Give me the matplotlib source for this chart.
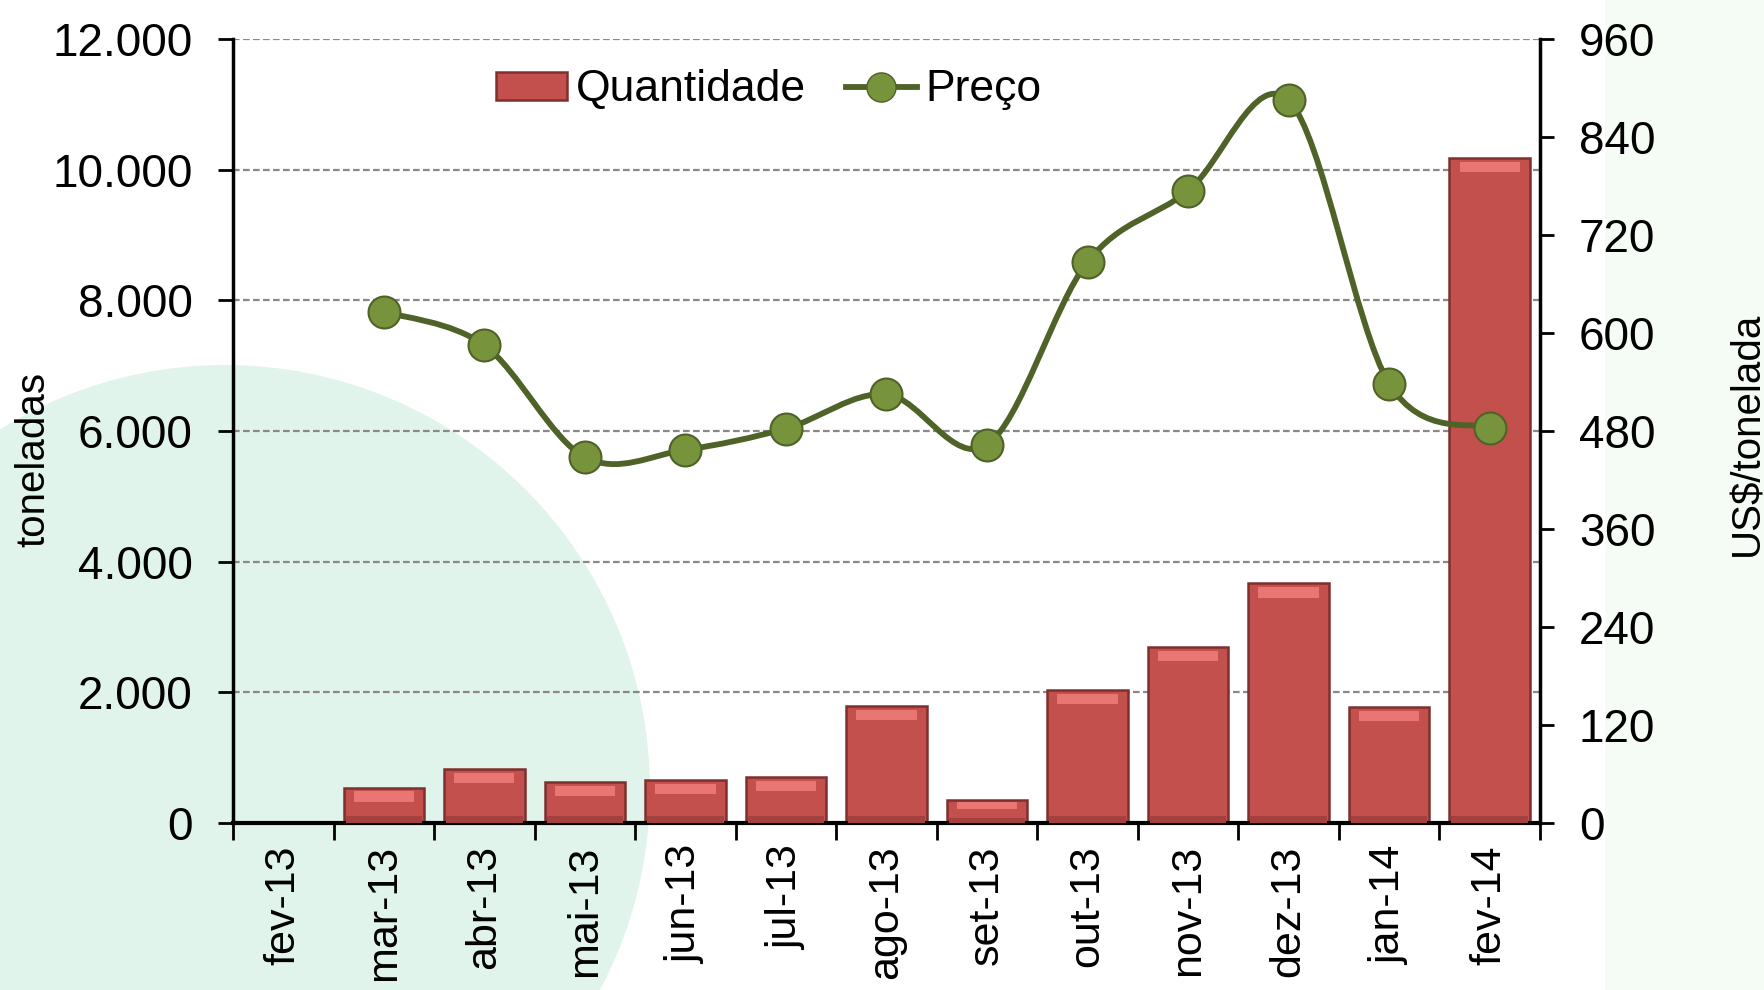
import numpy as np
import matplotlib.pyplot as plt
from matplotlib.path import Path
from matplotlib.patches import PathPatch, Circle, Rectangle, Patch
from matplotlib.lines import Line2D
from matplotlib.ticker import FuncFormatter

plt.rcParams['font.family'] = ['Liberation Sans', 'DejaVu Sans']

# Dados
meses = ['fev-13', 'mar-13', 'abr-13', 'mai-13', 'jun-13', 'jul-13', 'ago-13',
         'set-13', 'out-13', 'nov-13', 'dez-13', 'jan-14', 'fev-14']
quantidade = [0, 530, 830, 620, 655, 705, 1790, 345, 2040, 2700, 3670, 1780, 10180]
preco = [np.nan, 626, 585, 448, 457, 483, 525, 463, 687, 774, 885, 538, 484]

cor_barra = '#c4504d'
cor_borda = '#7e302e'
cor_linha = '#4f6228'
cor_marcador = '#77933c'

fig = plt.figure(figsize=(17.65, 9.9), dpi=100)

# fundo (marca d'água) num eixo por trás de tudo, em pixels
bg = fig.add_axes([0, 0, 1, 1], zorder=-10)
bg.set_xlim(0, 1765)
bg.set_ylim(990, 0)
bg.axis('off')
bg.add_patch(Circle((225, 790), 425, facecolor='#e0f4ec', edgecolor='none'))
bg.add_patch(Rectangle((1605, 0), 160, 990, facecolor='#f5fcf5', edgecolor='none'))

ax = fig.add_axes([0.132, 0.1687, 0.7405, 0.7919])
ax.set_facecolor('none')
x = np.arange(len(meses))
q = np.array(quantidade, dtype=float)

# barras com um leve bisel
ax.bar(x, q, width=0.8, color=cor_barra, edgecolor=cor_borda, linewidth=1.8, zorder=2)
base = np.minimum(110, 0.22 * q)
ax.bar(x, base, width=0.76, color='#a4403e', edgecolor='none', zorder=3)
realce = np.minimum(160, 0.3 * q)
margem = np.minimum(60, 0.08 * q)
ax.bar(x, realce, bottom=q - realce - margem, width=0.6, color='#e97672',
       edgecolor='none', zorder=3)

ax.set_xlim(-0.5, len(meses) - 0.5)
ax.set_ylim(0, 12000)
ax.set_yticks(np.arange(0, 12001, 2000))
ax.yaxis.set_major_formatter(FuncFormatter(lambda v, p: f'{int(v):,}'.replace(',', '.')))
ax.grid(axis='y', color='#8c8888', linestyle=(0, (3, 1.5)), linewidth=1.6, zorder=0)
ax.set_axisbelow(True)

ax.set_xticks(np.arange(-0.5, len(meses)), [''] * (len(meses) + 1))
ax.set_xticks(x, meses, minor=True, rotation=90)
ax.tick_params(axis='x', which='major', length=12, width=2)
ax.tick_params(axis='x', which='minor', length=0, pad=16, labelsize=31)
ax.tick_params(axis='y', length=11, width=2, pad=18, labelsize=33)
for lado in ['top', 'right']:
    ax.spines[lado].set_visible(False)
ax.spines['left'].set_linewidth(2.5)
ax.spines['bottom'].set_linewidth(3)
ax.set_ylabel('toneladas', fontsize=29)
ax.yaxis.set_label_coords(-0.138, 0.464)

# eixo secundário: preço com linha suavizada
ax2 = ax.twinx()
ax2.set_ylim(0, 960)
ax2.set_yticks(np.arange(0, 961, 120))
ax2.tick_params(axis='y', length=10, width=2, pad=18, labelsize=33)
for lado in ['top', 'left', 'bottom']:
    ax2.spines[lado].set_visible(False)
ax2.spines['right'].set_linewidth(2.5)
ax2.set_ylabel('US\\$/tonelada', fontsize=29)
ax2.yaxis.set_label_coords(1.144, 0.497)

p = np.array(preco, dtype=float)
ok = ~np.isnan(p)
pts = np.column_stack([x[ok], p[ok]])
verts = [pts[0]]
codes = [Path.MOVETO]
for i in range(len(pts) - 1):
    p0 = pts[max(i - 1, 0)]
    p1 = pts[i]
    p2 = pts[i + 1]
    p3 = pts[min(i + 2, len(pts) - 1)]
    verts += [p1 + (p2 - p0) / 6, p2 - (p3 - p1) / 6, p2]
    codes += [Path.CURVE4] * 3
ax2.add_patch(PathPatch(Path(verts, codes), facecolor='none', edgecolor=cor_linha,
                        linewidth=4.2, zorder=4))
ax2.plot(x[ok], p[ok], linestyle='none', marker='o', markersize=23,
         markerfacecolor=cor_marcador, markeredgecolor=cor_linha,
         markeredgewidth=1.5, zorder=5)

handles = [Patch(facecolor=cor_barra, edgecolor=cor_borda, linewidth=1.8),
           Line2D([], [], color=cor_linha, linewidth=4.2, marker='o', markersize=21,
                  markerfacecolor=cor_marcador, markeredgecolor=cor_linha)]
ax2.legend(handles, ['Quantidade', 'Preço'], loc='center', bbox_to_anchor=(0.41, 0.935),
           ncol=2, frameon=False, fontsize=32, handlelength=1.6, handleheight=0.6,
           handletextpad=0.2, columnspacing=0.9)

fig.savefig('out.png', dpi=100)
